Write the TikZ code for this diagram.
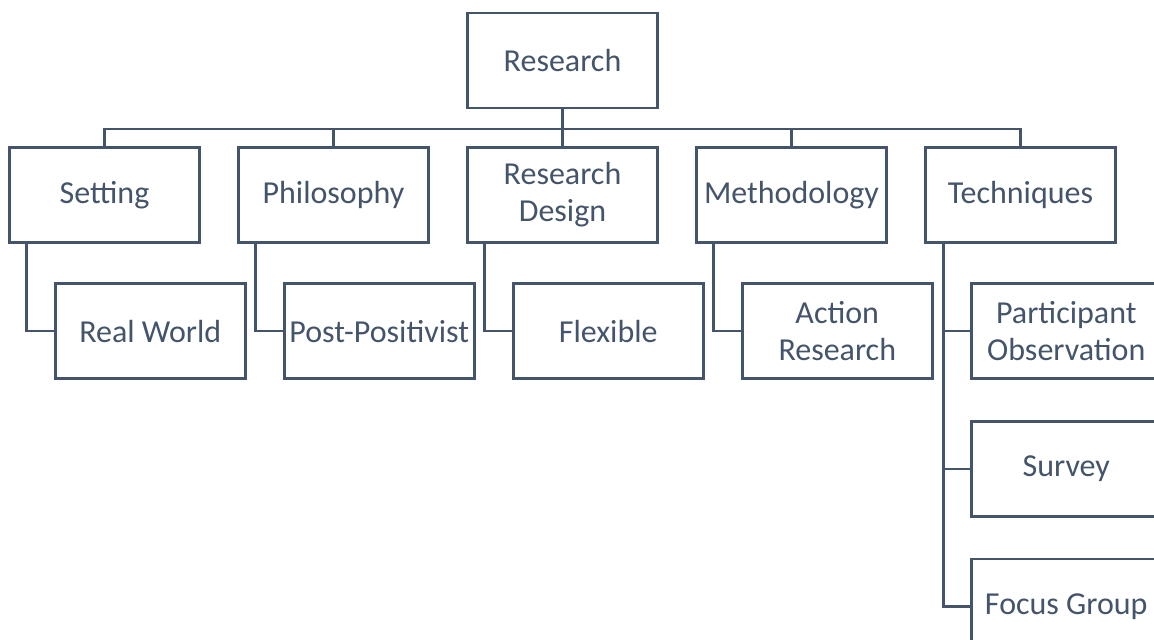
\documentclass[tikz,border=0pt]{standalone}
\usepackage{fontspec}
\setmainfont{Carlito}
\usetikzlibrary{positioning}
\definecolor{slate}{HTML}{44546A}
\tikzstyle{blk}=[draw=slate, line width=1.25pt, text=slate, align=center,
    minimum width=95pt, minimum height=47.5pt, inner sep=0pt,
    font=\fontsize{16}{18.5}\selectfont]
\tikzstyle{wire}=[draw=slate, line width=1.25pt]
\def\colstep{229}

\begin{document}
\begin{tikzpicture}[x=0.5pt, y=-0.5pt, node distance=20pt]
    \useasboundingbox (0,0) rectangle (1154,640);
    \clip (0,0) rectangle (1154,640);
    \node (research) [blk] at (562.5,60.5) {Research};
    % first row
    \node (setting) [blk] at (104.5,195) {Setting};
    \path (setting)+(\colstep,0) node (philosophy) [blk] {Philosophy};
    \path (philosophy)+(\colstep,0) node (design) [blk] {Research\\Design};
    \path (design)+(\colstep,0) node (methodology) [blk] {Methodology};
    \path (methodology)+(\colstep,0) node (techniques) [blk] {Techniques};
    % second row
    \path (setting.south west)+(142,87.5) node (realworld) [blk] {Real World};
    \path (philosophy.south west)+(142,87.5) node (postpos) [blk] {Post-Positivist};
    \path (design.south west)+(142,87.5) node (flexible) [blk] {Flexible};
    \path (methodology.south west)+(142,87.5) node (action) [blk] {Action\\Research};
    \path (techniques.south west)+(142,87.5) node (participant) [blk] {Participant\\Observation};
    \node (survey) [blk, below=of participant] {Survey};
    \node (focus) [blk, below=of survey] {Focus Group};
    % tree lines
    \draw[wire] (research.south) -- ++(0,20) -| (setting.north);
    \draw[wire] (research.south) -- ++(0,20) -| (philosophy.north);
    \draw[wire] (research.south) -- (design.north);
    \draw[wire] (research.south) -- ++(0,20) -| (methodology.north);
    \draw[wire] (research.south) -- ++(0,20) -| (techniques.north);
    \draw[wire] ([xshift=9pt]setting.south west) |- (realworld.west);
    \draw[wire] ([xshift=9pt]philosophy.south west) |- (postpos.west);
    \draw[wire] ([xshift=9pt]design.south west) |- (flexible.west);
    \draw[wire] ([xshift=9pt]methodology.south west) |- (action.west);
    \draw[wire] ([xshift=9.5pt]techniques.south west) |- (participant.west);
    \draw[wire] ([xshift=9.5pt]techniques.south west) |- (survey.west);
    \draw[wire] ([xshift=9.5pt]techniques.south west) |- (focus.west);
\end{tikzpicture}
\end{document}
